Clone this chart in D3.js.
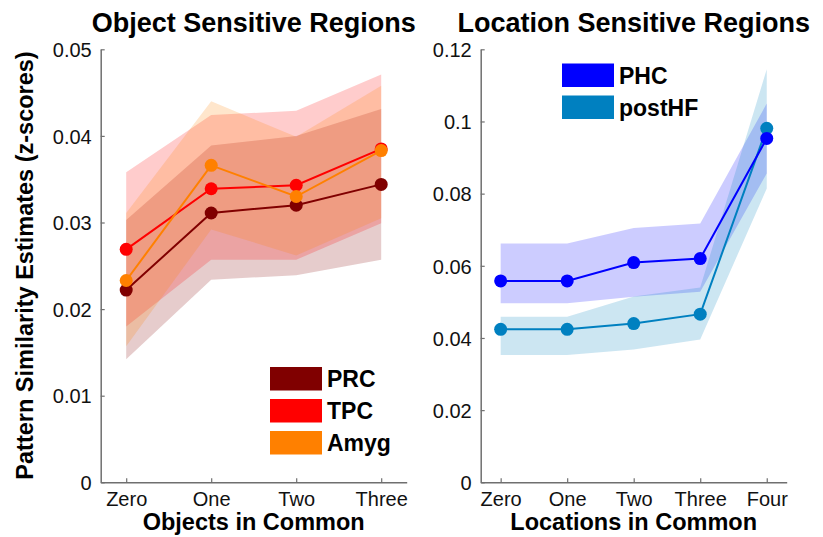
<!DOCTYPE html>
<html>
<head>
<meta charset="utf-8">
<script src="https://cdn.jsdelivr.net/npm/d3@7"></script>
<style>
  html, body { margin: 0; padding: 0; background: #fff; }
  svg { display: block; font-family: "Liberation Sans", Arial, sans-serif; }
</style>
</head>
<body>
<svg id="chart" width="823" height="537"></svg>
<script>
// ---------- data ----------
const objCats = ["Zero", "One", "Two", "Three"];
const prcMean  = [0.0222, 0.0311, 0.0320, 0.0344];
const prcLo    = [0.0142, 0.0234, 0.0239, 0.0257];
const prcHi    = [0.0303, 0.0389, 0.0400, 0.0431];
const tpcMean  = [0.0269, 0.0339, 0.0343, 0.0385];
const tpcLo    = [0.0180, 0.0257, 0.0257, 0.0299];
const tpcHi    = [0.0358, 0.0424, 0.0429, 0.0471];
const amygMean = [0.0233, 0.0366, 0.0330, 0.0383];
const amygLo   = [0.0157, 0.0292, 0.0262, 0.0305];
const amygHi   = [0.0311, 0.0440, 0.0399, 0.0458];
const objTicks = [0, 0.01, 0.02, 0.03, 0.04, 0.05];
const objTickLabels = ["0", "0.01", "0.02", "0.03", "0.04", "0.05"];

const locCats = ["Zero", "One", "Two", "Three", "Four"];
const phcMean = [0.0558, 0.0558, 0.0609, 0.0620, 0.0953];
const phcLo   = [0.0496, 0.0496, 0.0514, 0.0528, 0.0856];
const phcHi   = [0.0662, 0.0662, 0.0705, 0.0717, 0.1050];
const hfMean  = [0.0424, 0.0424, 0.0440, 0.0466, 0.0981];
const hfLo    = [0.0353, 0.0353, 0.0368, 0.0396, 0.0814];
const hfHi    = [0.0459, 0.0459, 0.0515, 0.0540, 0.1145];
const locTicks = [0, 0.02, 0.04, 0.06, 0.08, 0.1, 0.12];
const locTickLabels = ["0", "0.02", "0.04", "0.06", "0.08", "0.1", "0.12"];

const objSeries = [
  {name: "PRC",  color: "#800000", mean: prcMean,  lo: prcLo,  hi: prcHi},
  {name: "TPC",  color: "#ff0000", mean: tpcMean,  lo: tpcLo,  hi: tpcHi},
  {name: "Amyg", color: "#ff8000", mean: amygMean, lo: amygLo, hi: amygHi}
];
const locSeries = [
  {name: "PHC",    color: "#0000ff", mean: phcMean, lo: phcLo, hi: phcHi},
  {name: "postHF", color: "#0080c0", mean: hfMean,  lo: hfLo,  hi: hfHi}
];

// ---------- drawing ----------
const svg = d3.select("#chart");
const FONT = '"Liberation Sans", Arial, sans-serif';
const axisColor = "#6f6f6f";

function panel(opts) {
  const {left, right, top, bottom, cats, ymax, ticks, tickLabels, series,
         title, xlabel, legendX, legendY, drawOrder} = opts;
  const x = d3.scaleLinear().domain([-0.3, cats.length - 1 + 0.3]).range([left, right]);
  const y = d3.scaleLinear().domain([0, ymax]).range([bottom, top]);
  const g = svg.append("g");

  // bands
  series.forEach(s => {
    const area = d3.area()
      .x((d, i) => x(i))
      .y0((d, i) => y(s.lo[i]))
      .y1((d, i) => y(s.hi[i]));
    g.append("path").datum(s.mean).attr("d", area)
      .attr("fill", s.color).attr("fill-opacity", 0.2).attr("stroke", "none");
  });

  // lines + markers
  drawOrder.forEach(k => {
    const s = series[k];
    const line = d3.line().x((d, i) => x(i)).y(d => y(d));
    g.append("path").datum(s.mean).attr("d", line)
      .attr("fill", "none").attr("stroke", s.color).attr("stroke-width", 2);
    g.selectAll(null).data(s.mean).enter().append("circle")
      .attr("cx", (d, i) => x(i)).attr("cy", d => y(d)).attr("r", 6.5)
      .attr("fill", s.color);
  });

  // axes
  const yAxis = d3.axisLeft(y).tickValues(ticks).tickFormat((d, i) => tickLabels[i])
    .tickSizeInner(-4).tickSizeOuter(0).tickPadding(9);
  const ya = g.append("g").attr("transform", `translate(${left},0)`).call(yAxis);
  const xAxis = d3.axisBottom(x).tickValues(d3.range(cats.length)).tickFormat(i => cats[i])
    .tickSizeInner(-4).tickSizeOuter(0).tickPadding(8);
  const xa = g.append("g").attr("transform", `translate(0,${bottom})`).call(xAxis);
  [ya, xa].forEach(a => {
    a.select(".domain").attr("stroke", axisColor).attr("stroke-width", 1.5);
    a.selectAll(".tick line").attr("stroke", axisColor).attr("stroke-width", 1.2);
    a.selectAll("text").attr("fill", "#111").style("font-family", FONT).style("font-size", "20px");
  });
  ya.selectAll("text").attr("dy", "0.36em");
  xa.selectAll("text").attr("dy", "0.8em");

  // title & xlabel
  g.append("text").attr("x", (left + right) / 2).attr("y", 32)
    .attr("text-anchor", "middle").style("font-family", FONT)
    .style("font-size", "27px").style("font-weight", "bold").attr("fill", "#000").text(title);
  g.append("text").attr("x", (left + right) / 2).attr("y", 530)
    .attr("text-anchor", "middle").style("font-family", FONT)
    .style("font-size", "23.5px").style("font-weight", "bold").attr("fill", "#000").text(xlabel);

  // legend
  series.forEach((s, i) => {
    const yy = legendY + i * 32;
    g.append("rect").attr("x", legendX).attr("y", yy).attr("width", 52).attr("height", 23.5)
      .attr("fill", s.color);
    g.append("text").attr("x", legendX + 57).attr("y", yy + 20)
      .style("font-family", FONT).style("font-size", "23px").style("font-weight", "bold")
      .attr("fill", "#000").text(s.name);
  });
}

panel({left: 100.7, right: 406.7, top: 49.3, bottom: 482.3, cats: objCats, ymax: 0.05,
       ticks: objTicks, tickLabels: objTickLabels, series: objSeries,
       title: "Object Sensitive Regions", xlabel: "Objects in Common",
       legendX: 270, legendY: 367, drawOrder: [0, 1, 2]});

panel({left: 480.7, right: 786.7, top: 49.3, bottom: 482.3, cats: locCats, ymax: 0.12,
       ticks: locTicks, tickLabels: locTickLabels, series: locSeries,
       title: "Location Sensitive Regions", xlabel: "Locations in Common",
       legendX: 562, legendY: 63.5, drawOrder: [1, 0]});

// y label
svg.append("text")
  .attr("transform", "translate(33,265.5) rotate(-90)")
  .attr("text-anchor", "middle")
  .style("font-family", FONT).style("font-size", "23.5px").style("font-weight", "bold")
  .attr("fill", "#000")
  .text("Pattern Similarity Estimates (z-scores)");
</script>
</body>
</html>
